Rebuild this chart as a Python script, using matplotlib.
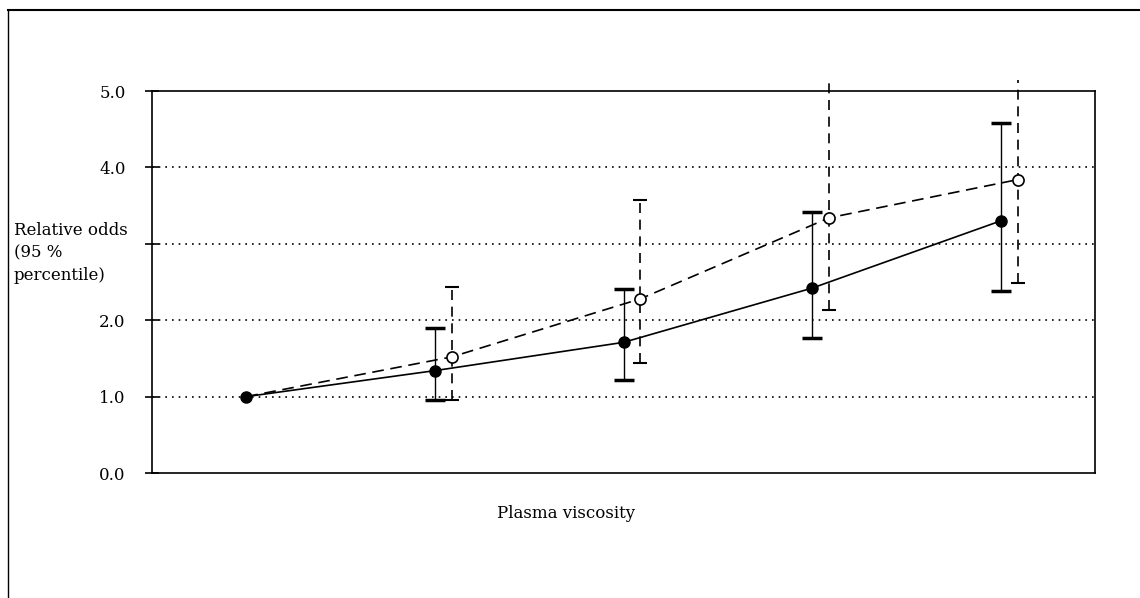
import matplotlib.pyplot as plt
from matplotlib.lines import Line2D

plt.rcParams['font.family'] = ['DejaVu Serif']

# categories (quantile groups of plasma viscosity)
groups = [1, 2, 3, 4, 5]

# solid series (filled circles)
solid_odds = [1.0, 1.34, 1.71, 2.42, 3.30]
solid_low = [1.0, 0.96, 1.22, 1.77, 2.38]
solid_high = [1.0, 1.90, 2.41, 3.42, 4.58]

# dashed series (open circles); last two upper limits run off the top
dash_odds = [1.0, 1.52, 2.28, 3.34, 3.84]
dash_low = [1.0, 0.96, 1.44, 2.13, 2.49]
dash_high = [1.0, 2.43, 3.57, 5.15, 5.15]

y_ticks = [0, 1, 2, 3, 4, 5]
y_labels = ["0.0", "1.0", "2.0", "", "4.0", "5.0"]

fig = plt.figure(figsize=(11.4, 5.98), dpi=100)
ax = fig.add_axes([152 / 1140, 1 - 473 / 598, (1095 - 152) / 1140, (473 - 91) / 598])

off = 0.09
xd = [g + off if i > 0 else g for i, g in enumerate(groups)]

# dashed series
ax.plot(xd, dash_odds, color="black", lw=1.2, ls=(0, (7, 4)), zorder=3)
for i in range(1, len(groups)):
    ax.plot([xd[i], xd[i]], [dash_low[i], dash_high[i]], color="black", lw=1.2,
            ls=(0, (6, 4)), clip_on=False, zorder=3)
    ax.plot(xd[i], dash_low[i], "_", color="black", ms=10, mew=1.5, zorder=3)
    if dash_high[i] <= 5:
        ax.plot(xd[i], dash_high[i], "_", color="black", ms=10, mew=1.5, zorder=3)
ax.plot(xd[1:], dash_odds[1:], "o", mfc="white", mec="black", ms=8, mew=1.2, zorder=4)

# solid series
ax.plot(groups, solid_odds, color="black", lw=1.2, zorder=3)
err_s = [[o - l for o, l in zip(solid_odds, solid_low)],
         [h - o for o, h in zip(solid_odds, solid_high)]]
ax.errorbar(groups[1:], solid_odds[1:], yerr=[err_s[0][1:], err_s[1][1:]], fmt="none",
            ecolor="black", elinewidth=1.0, capsize=7, capthick=2.5, zorder=3)
ax.plot(groups, solid_odds, "o", color="black", ms=8, zorder=5)

ax.set_xlim(0.5, 5.5)
ax.set_ylim(0, 5)
ax.set_xticks([])
ax.set_yticks(y_ticks)
ax.set_yticklabels(y_labels, fontsize=12)
ax.tick_params(axis="y", direction="inout", length=10, width=1.2, pad=14)
for g in [1, 2, 3, 4]:
    ax.axhline(g, color="black", lw=1.2, ls=(0, (1, 3)), zorder=1)
for s in ax.spines.values():
    s.set_linewidth(1.2)

fig.text(14 / 1140, 1 - 253 / 598, "Relative odds\n(95 %\npercentile)",
         ha="left", va="center", fontsize=12, linespacing=1.45)
fig.text(566 / 1140, 1 - 513 / 598, "Plasma viscosity", ha="center", va="center", fontsize=12)

# outer frame (top and left edges)
fig.add_artist(Line2D([8 / 1140, 8 / 1140], [0, 1 - 10 / 598], transform=fig.transFigure,
                      color="black", lw=1))
fig.add_artist(Line2D([8 / 1140, 1], [1 - 10 / 598, 1 - 10 / 598], transform=fig.transFigure,
                      color="black", lw=1.5))

fig.savefig("out.png", dpi=100)
